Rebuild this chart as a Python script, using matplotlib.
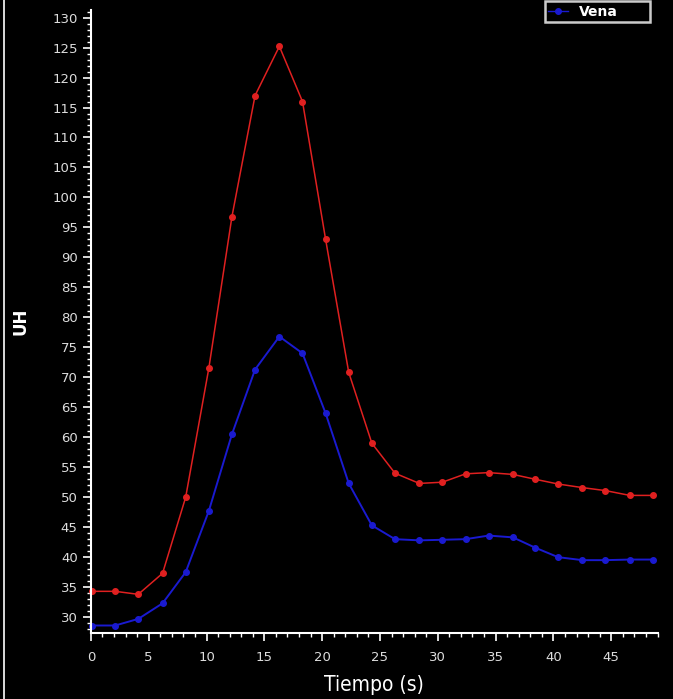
import matplotlib.pyplot as plt
from matplotlib.lines import Line2D
from matplotlib.ticker import MultipleLocator

tiempo = [0.1, 2.1, 4.1, 6.2, 8.2, 10.2, 12.2, 14.2, 16.3, 18.3, 20.3, 22.3, 24.3,
          26.3, 28.4, 30.4, 32.4, 34.4, 36.5, 38.4, 40.4, 42.5, 44.5, 46.6, 48.6]
arteria = [34.3, 34.3, 33.8, 37.3, 50.0, 71.5, 96.8, 117.0, 125.2, 116.0, 93.0, 70.8, 59.0,
           54.0, 52.3, 52.5, 53.9, 54.1, 53.8, 53.0, 52.2, 51.6, 51.1, 50.3, 50.3]
vena = [28.6, 28.6, 29.7, 32.3, 37.5, 47.7, 60.5, 71.3, 76.8, 74.0, 64.0, 52.3, 45.3,
        43.0, 42.8, 42.9, 43.0, 43.6, 43.3, 41.6, 40.0, 39.5, 39.5, 39.6, 39.6]

fig = plt.figure(figsize=(6.73, 6.99), dpi=100, facecolor='black')
ax = fig.add_axes([0.135, 0.094, 0.842, 0.892], facecolor='black')

ax.plot(tiempo, arteria, color='#e02020', linewidth=1.1, marker='o', markersize=4,
        label='Arteria', clip_on=False)
ax.plot(tiempo, vena, color='#1a1ad0', linewidth=1.4, marker='o', markersize=4,
        label='Vena', clip_on=False)

ax.set_xlim(0, 49)
ax.set_ylim(27.3, 131.3)
ax.xaxis.set_major_locator(MultipleLocator(5))
ax.xaxis.set_minor_locator(MultipleLocator(1))
ax.yaxis.set_major_locator(MultipleLocator(5))
ax.yaxis.set_minor_locator(MultipleLocator(1))

for s in ['top', 'right']:
    ax.spines[s].set_visible(False)
for s in ['left', 'bottom']:
    ax.spines[s].set_color('white')
    ax.spines[s].set_linewidth(1.5)

ax.tick_params(which='major', colors='white', labelcolor='#dddddd', length=6, width=1.2,
               labelsize=9.5)
ax.tick_params(axis='x', which='major', pad=7)
ax.tick_params(which='minor', colors='white', length=3, width=1)

ax.set_xlabel('Tiempo (s)', color='white', fontsize=15, labelpad=8, fontstretch='condensed')
ax.set_ylabel('UH', color='white', fontsize=12, fontweight='bold', labelpad=16)

handle = Line2D([], [], color='#1a1ad0', marker='o', markersize=4, linewidth=1)
leg = fig.legend([handle], ['Vena'], loc='lower left',
                 bbox_to_anchor=(545 / 673, 1 - 22 / 699, 105 / 673, 24 / 699), mode='expand',
                 facecolor='black', edgecolor='white', fancybox=False, fontsize=10,
                 handlelength=1.4, borderpad=0.25, handletextpad=0.8, borderaxespad=0)
for t in leg.get_texts():
    t.set_color('white')
    t.set_fontweight('bold')
leg.get_frame().set_linewidth(1.8)

fig.add_artist(Line2D([0.006, 0.006], [0, 1], color='white', linewidth=1.2,
                      transform=fig.transFigure))

fig.savefig('out.png', dpi=100, facecolor='black')
